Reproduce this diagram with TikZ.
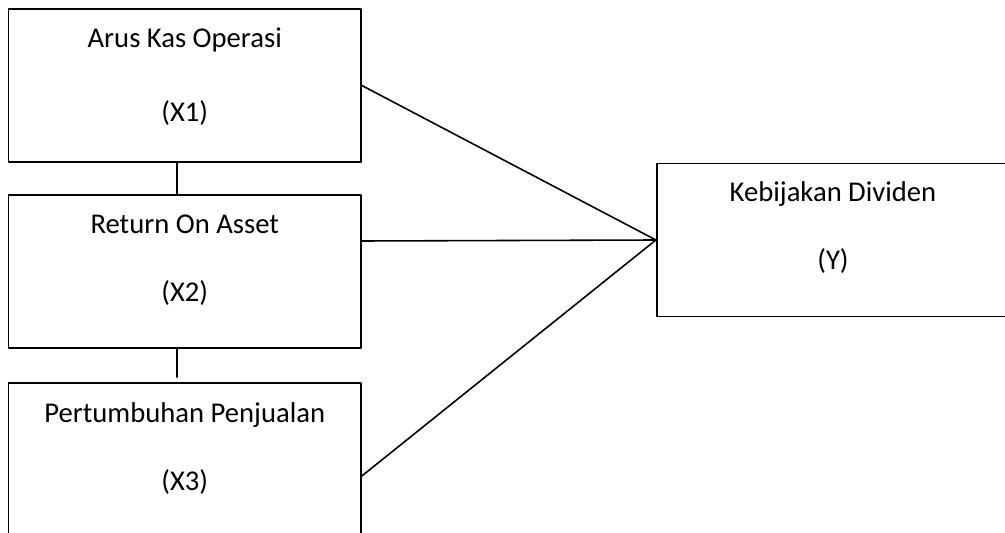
\documentclass[tikz,border=0pt]{standalone}
\usepackage{fontspec}
\setmainfont{Carlito}
\usetikzlibrary{positioning}
\tikzset{box/.style={draw=black,line width=1pt,minimum width=7.05cm,minimum height=3.06cm,inner sep=0pt},
 lbl/.style={align=center,inner sep=0pt,anchor=base,font=\fontsize{16.3}{38.7}\selectfont},
 link/.style={draw=black,line width=.9pt},
 every picture/.style={line join=round,line cap=round}}

\begin{document}
\begin{tikzpicture}[x=0.02cm,y=-0.02cm]
\clip (0,0) rectangle (1005,533);
\node[box] (x1) at (184.75,85.5) {};
\node[box] (x2) at (184.75,271.5) {};
\node[box] (x3) at (184.75,459.5) {};
\node[box] (y) at (833,240) {};
% label text, placed by the baseline of its last line
\node[lbl] (x1t) at ([yshift=-2.26cm]x1.north) {Arus Kas Operasi\\[3.4pt](X1)};
\node[lbl] (x2t) at ([yshift=-2.14cm]x2.north) {Return On Asset\\(X2)};
\node[lbl] (x3t) at ([yshift=-2.16cm]x3.north) {Pertumbuhan Penjualan\\(X3)};
\node[lbl] (yt) at ([yshift=-2.14cm]y.north) {Kebijakan Dividen\\(Y)};
\draw[link] (x1.east) -- (y.west);
\draw[link] ([yshift=0.61cm]x2.east) -- (y.west);
\draw[link] ([yshift=-0.33cm]x3.east) -- (y.west);
\draw[link] ([xshift=-0.16cm]x1.south) -- ([xshift=-0.16cm]x2.north);
\draw[link,shorten >=0.1cm] ([xshift=-0.16cm]x2.south) -- ([xshift=-0.16cm]x3.north);
\end{tikzpicture}
\end{document}
